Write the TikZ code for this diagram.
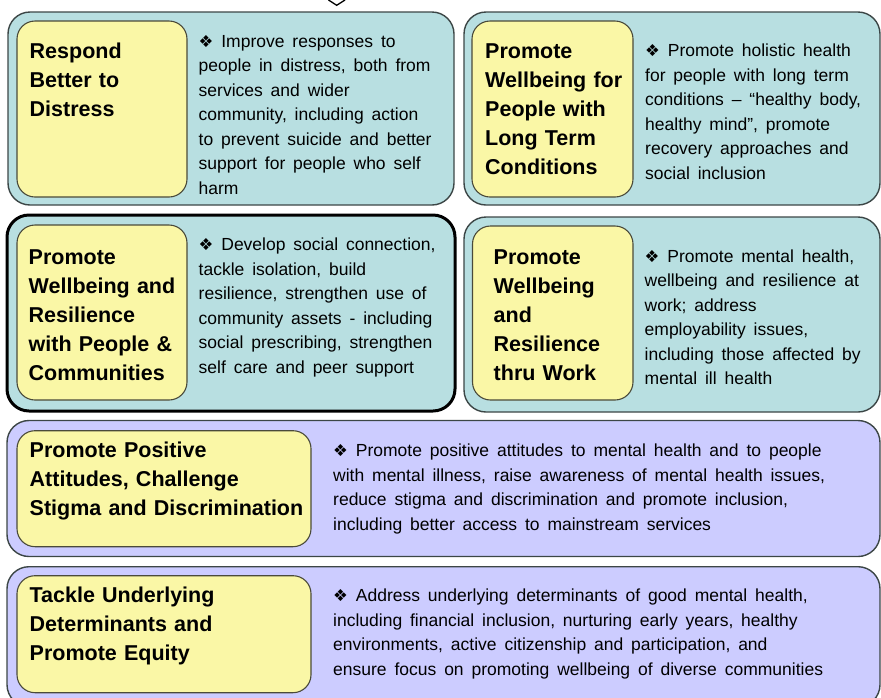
\documentclass[tikz,border=0pt]{standalone}
\usepackage{fontspec}
\setmainfont{Liberation Sans}
\newfontfamily\dingfont{DejaVu Sans}

\definecolor{panelteal}{HTML}{B8DFE1}
\definecolor{panelviolet}{HTML}{CCCCFF}
\definecolor{tagyellow}{HTML}{FAF7A6}
\definecolor{edgegray}{HTML}{3C4646}
\definecolor{tagedge}{HTML}{4A4A3A}

% small ornament that opens every description
\newcommand\ornament{{\dingfont\fontsize{16.5}{16.5}\selectfont ❖}}
% slightly wider word gaps for the descriptions
\newcommand\widegaps{\spaceskip=0.45em plus 0.2em\relax}

\tikzset{
  panel/.style={draw=edgegray, line width=1.4pt, rounded corners=22pt,
    anchor=north west, inner sep=0pt, outer sep=0pt},
  tealpanel/.style={panel, fill=panelteal},
  violetpanel/.style={panel, fill=panelviolet},
  tag/.style={draw=tagedge, fill=tagyellow, line width=1.1pt, rounded corners=18pt,
    anchor=north west, inner sep=0pt, outer sep=0pt},
  heading/.style={anchor=base west, inner sep=0pt, text width=300pt, align=left,
    font=\fontsize{21.5}{29}\selectfont\bfseries},
  blurb/.style={anchor=base west, inner sep=0pt, text width=560pt, align=left,
    font=\fontsize{17.5}{24.5}\selectfont},
}

\begin{document}
\begin{tikzpicture}[x=1pt, y=-1pt]
  \useasboundingbox (0,0) rectangle (881,697);

  % tip of the shape above the panels
  \draw[line width=1.3pt] (328.5,0) -- (336.7,5.3) -- (345,0);

  % ---- row 1 ----
  \node[tealpanel, minimum width=446pt, minimum height=193pt] (p1) at (8,12) {};
  \node[tag, minimum width=170pt, minimum height=176pt] (t1) at (17,21) {};
  \node[heading] (h1) at (29.5,58.3) {Respond\\Better to\\Distress};
  \node[blurb] (d1) at (198.5,47.3) {\widegaps\ornament{} Improve responses to\\people in distress, both from\\services and wider\\community, including action\\to prevent suicide and better\\support for people who self\\harm};

  \node[tealpanel, minimum width=416pt, minimum height=193pt] (p2) at (464,12) {};
  \node[tag, minimum width=161pt, minimum height=176pt] (t2) at (472,21) {};
  \node[heading] (h2) at (485,58.3) {Promote\\Wellbeing for\\People with\\Long Term\\Conditions};
  \node[blurb] (d2) at (645,56.5) {\widegaps\ornament{} Promote holistic health\\for people with long term\\conditions – “healthy body,\\healthy mind”, promote\\recovery approaches and\\social inclusion};

  % ---- row 2 ----
  \node[panel, fill=panelteal, draw=black, line width=3pt, minimum width=448pt, minimum height=196pt] (p3) at (7,215) {};
  \node[tag, minimum width=170pt, minimum height=175pt] (t3) at (17,225) {};
  \node[heading] (h3) at (28.5,264.2) {Promote\\Wellbeing and\\Resilience\\with People \&\\Communities};
  \node[blurb] (d3) at (198.5,250.8) {\widegaps\ornament{} Develop social connection,\\tackle isolation, build\\resilience, strengthen use of\\community assets - including\\social prescribing, strengthen\\self care and peer support};

  \node[tealpanel, minimum width=416pt, minimum height=195pt] (p4) at (464,217) {};
  \node[tag, minimum width=160.5pt, minimum height=174pt] (t4) at (472.5,226) {};
  \node[heading] (h4) at (493.5,264.2) {Promote\\Wellbeing\\and\\Resilience\\thru Work};
  \node[blurb] (d4) at (644.5,262) {\widegaps\ornament{} Promote mental health,\\wellbeing and resilience at\\work; address\\employability issues,\\including those affected by\\mental ill health};

  % ---- row 3 ----
  \node[violetpanel, minimum width=873pt, minimum height=136pt] (p5) at (7,420.5) {};
  \node[tag, minimum width=294pt, minimum height=116pt] (t5) at (17,430.7) {};
  \node[heading] (h5) at (29.5,457.7) {Promote Positive\\Attitudes, Challenge\\Stigma and Discrimination};
  \node[blurb] (d5) at (333,456.7) {\widegaps\ornament{} Promote positive attitudes to mental health and to people\\with mental illness, raise awareness of mental health issues,\\reduce stigma and discrimination and promote inclusion,\\including better access to mainstream services};

  % ---- row 4 ----
  \node[violetpanel, minimum width=873pt, minimum height=140pt] (p6) at (7,566.7) {};
  \node[tag, minimum width=294pt, minimum height=117pt] (t6) at (17,575.7) {};
  \node[heading] (h6) at (29.5,602.7) {Tackle Underlying\\Determinants and\\Promote Equity};
  \node[blurb] (d6) at (333,601.7) {\widegaps\ornament{} Address underlying determinants of good mental health,\\including financial inclusion, nurturing early years, healthy\\environments, active citizenship and participation, and\\ensure focus on promoting wellbeing of diverse communities};
\end{tikzpicture}
\end{document}
